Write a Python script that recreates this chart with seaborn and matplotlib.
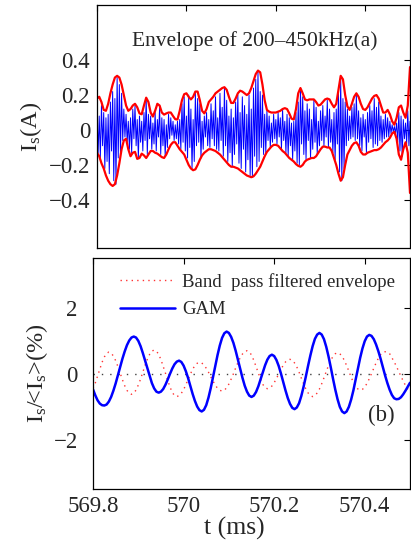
import numpy as np
import pandas as pd
import seaborn as sns
import matplotlib.pyplot as plt

# time grids (ms)
t_env = np.round(569.8 + 0.005 * np.arange(141), 4)
t_raw = np.round(569.8 + 0.0025 * np.arange(281), 5)

# (a) raw 200-450 kHz signal
raw_sig = [
    0.12, -0.13, 0.08, -0.16, 0.14, -0.09, 0.10, -0.22, 0.07, -0.18,
    0.09, -0.25, 0.16, -0.12, 0.22, -0.29, 0.18, -0.31, 0.30, -0.16,
    0.26, -0.14, 0.21, -0.06, 0.12, -0.04, 0.09, -0.07, 0.05, -0.11,
    0.07, -0.13, 0.12, -0.05, 0.14, -0.09, 0.06, -0.16, 0.08, -0.07,
    0.05, -0.12, 0.10, -0.06, 0.18, -0.14, 0.09, -0.05, 0.08, -0.11,
    0.04, -0.08, 0.10, -0.12, 0.06, -0.04, 0.13, -0.14, 0.07, -0.09,
    0.06, -0.15, 0.03, -0.10, 0.09, -0.05, 0.07, -0.03, 0.05, -0.06,
    0.03, -0.05, 0.05, -0.08, 0.06, -0.11, 0.15, -0.07, 0.19, -0.12,
    0.08, -0.16, 0.20, -0.10, 0.12, -0.22, 0.06, -0.18, 0.21, -0.09,
    0.18, -0.07, 0.15, -0.16, 0.05, -0.11, 0.08, -0.04, 0.10, -0.09,
    0.06, -0.10, 0.15, -0.05, 0.11, -0.09, 0.19, -0.11, 0.07, -0.12,
    0.21, -0.06, 0.13, -0.15, 0.24, -0.09, 0.17, -0.18, 0.08, -0.13,
    0.12, -0.21, 0.07, -0.14, 0.16, -0.08, 0.20, -0.19, 0.10, -0.22,
    0.19, -0.11, 0.14, -0.24, 0.09, -0.17, 0.20, -0.26, 0.12, -0.27,
    0.24, -0.15, 0.29, -0.21, 0.34, -0.18, 0.22, -0.10, 0.20, -0.14,
    0.09, -0.13, 0.11, -0.06, 0.08, -0.10, 0.04, -0.07, 0.09, -0.05,
    0.06, -0.08, 0.10, -0.04, 0.07, -0.11, 0.12, -0.06, 0.05, -0.13,
    0.09, -0.15, 0.07, -0.09, 0.04, -0.17, 0.05, -0.12, 0.10, -0.19,
    0.16, -0.20, 0.24, -0.08, 0.19, -0.14, 0.11, -0.17, 0.15, -0.06,
    0.12, -0.16, 0.06, -0.11, 0.17, -0.07, 0.13, -0.14, 0.05, -0.09,
    0.11, -0.06, 0.14, -0.09, 0.08, -0.04, 0.17, -0.10, 0.12, -0.07,
    0.06, -0.13, 0.10, -0.17, 0.12, -0.08, 0.21, -0.24, 0.30, -0.29,
    0.18, -0.22, 0.16, -0.09, 0.12, -0.06, 0.08, -0.05, 0.13, -0.04,
    0.15, -0.06, 0.20, -0.05, 0.11, -0.09, 0.07, -0.12, 0.09, -0.04,
    0.06, -0.13, 0.10, -0.07, 0.14, -0.05, 0.11, -0.10, 0.18, -0.08,
    0.13, -0.09, 0.16, -0.06, 0.08, -0.07, 0.06, -0.05, 0.09, -0.04,
    0.07, -0.04, 0.05, -0.02, 0.03, -0.01, 0.02, -0.02, 0.04, -0.07,
    0.10, -0.12, 0.08, -0.15, 0.06, -0.05, 0.04, -0.08, 0.11, -0.09,
    0.05,
]

env_upper = [
    0.18, 0.19, 0.16, 0.115, 0.11, 0.15, 0.21, 0.26, 0.30, 0.31,
    0.30, 0.26, 0.20, 0.14, 0.11, 0.12, 0.14, 0.15, 0.13, 0.095,
    0.09, 0.14, 0.185, 0.16, 0.10, 0.077, 0.11, 0.15, 0.14, 0.10,
    0.088, 0.095, 0.10, 0.10, 0.08, 0.062, 0.06, 0.11, 0.17, 0.205,
    0.21, 0.19, 0.175, 0.19, 0.22, 0.22, 0.17, 0.11, 0.095, 0.12,
    0.16, 0.175, 0.19, 0.21, 0.22, 0.23, 0.24, 0.245, 0.23, 0.19,
    0.155, 0.155, 0.18, 0.21, 0.225, 0.22, 0.21, 0.20, 0.21, 0.24,
    0.28, 0.32, 0.34, 0.33, 0.26, 0.17, 0.115, 0.105, 0.10, 0.10,
    0.10, 0.105, 0.11, 0.12, 0.125, 0.12, 0.095, 0.065, 0.06, 0.12,
    0.21, 0.24, 0.21, 0.175, 0.17, 0.175, 0.175, 0.175, 0.16, 0.14,
    0.145, 0.16, 0.175, 0.18, 0.175, 0.15, 0.13, 0.15, 0.23, 0.31,
    0.29, 0.20, 0.135, 0.115, 0.15, 0.19, 0.21, 0.19, 0.15, 0.12,
    0.115, 0.13, 0.155, 0.18, 0.195, 0.20, 0.18, 0.14, 0.10, 0.10,
    0.115, 0.09, 0.05, 0.03, 0.07, 0.13, 0.14, 0.10, 0.07, 0.14,
    0.36,
]

env_lower = [
    -0.13, -0.15, -0.19, -0.22, -0.26, -0.29, -0.31, -0.32, -0.31, -0.26,
    -0.19, -0.11, -0.06, -0.05, -0.11, -0.15, -0.13, -0.125, -0.165, -0.16,
    -0.135, -0.145, -0.16, -0.14, -0.12, -0.12, -0.13, -0.135, -0.145, -0.155,
    -0.16, -0.14, -0.11, -0.085, -0.07, -0.07, -0.09, -0.11, -0.125, -0.14,
    -0.17, -0.20, -0.22, -0.23, -0.225, -0.20, -0.17, -0.145, -0.13, -0.12,
    -0.11, -0.11, -0.115, -0.12, -0.13, -0.14, -0.155, -0.17, -0.185, -0.20,
    -0.21, -0.21, -0.215, -0.22, -0.23, -0.24, -0.25, -0.26, -0.265, -0.27,
    -0.265, -0.25, -0.23, -0.21, -0.18, -0.15, -0.125, -0.11, -0.095, -0.085,
    -0.085, -0.09, -0.105, -0.12, -0.13, -0.145, -0.16, -0.17, -0.18, -0.195,
    -0.205, -0.21, -0.20, -0.18, -0.17, -0.165, -0.16, -0.16, -0.15, -0.13,
    -0.11, -0.095, -0.095, -0.10, -0.10, -0.12, -0.16, -0.20, -0.25, -0.29,
    -0.27, -0.20, -0.14, -0.115, -0.09, -0.075, -0.07, -0.09, -0.125, -0.14,
    -0.14, -0.13, -0.125, -0.12, -0.115, -0.115, -0.11, -0.10, -0.085, -0.07,
    -0.06, -0.045, -0.02, -0.01, -0.05, -0.14, -0.17, -0.11, -0.07, -0.13,
    -0.36,
]

# (b) relative fluctuation (%)
bp_envelope = [
    -0.45, -0.29, -0.08, 0.13, 0.34, 0.50, 0.61, 0.65, 0.62, 0.53,
    0.39, 0.21, 0.01, -0.19, -0.37, -0.51, -0.60, -0.63, -0.60, -0.50,
    -0.35, -0.17, 0.04, 0.25, 0.43, 0.58, 0.68, 0.71, 0.68, 0.58,
    0.42, 0.22, 0.01, -0.21, -0.41, -0.57, -0.67, -0.70, -0.67, -0.60,
    -0.49, -0.34, -0.18, -0.02, 0.13, 0.24, 0.31, 0.34, 0.32, 0.26,
    0.16, 0.04, -0.10, -0.23, -0.35, -0.45, -0.51, -0.53, -0.51, -0.43,
    -0.32, -0.17, -0.01, 0.17, 0.33, 0.48, 0.59, 0.67, 0.69, 0.66,
    0.56, 0.40, 0.21, 0.02, -0.17, -0.33, -0.43, -0.46, -0.44, -0.38,
    -0.28, -0.15, -0.02, 0.12, 0.25, 0.35, 0.41, 0.43, 0.40, 0.32,
    0.20, 0.04, -0.14, -0.31, -0.47, -0.59, -0.67, -0.70, -0.67, -0.59,
    -0.47, -0.31, -0.13, 0.06, 0.24, 0.40, 0.52, 0.60, 0.63, 0.60,
    0.52, 0.40, 0.24, 0.07, -0.11, -0.27, -0.39, -0.47, -0.50, -0.48,
    -0.41, -0.30, -0.16, 0.00, 0.16, 0.32, 0.46, 0.57, 0.64, 0.66,
    0.65, 0.60, 0.48, 0.35, 0.22, 0.06, -0.08, -0.23, -0.36, -0.47,
    -0.56,
]

gam = [
    -0.48, -0.66, -0.81, -0.91, -0.96, -0.97, -0.94, -0.85, -0.71, -0.52,
    -0.30, -0.05, 0.20, 0.45, 0.67, 0.86, 1.00, 1.09, 1.12, 1.09,
    0.99, 0.83, 0.62, 0.39, 0.15, -0.08, -0.29, -0.45, -0.55, -0.58,
    -0.55, -0.47, -0.34, -0.18, -0.01, 0.15, 0.28, 0.36, 0.39, 0.35,
    0.24, 0.07, -0.14, -0.38, -0.62, -0.83, -1.00, -1.11, -1.15, -1.10,
    -0.96, -0.73, -0.44, -0.11, 0.23, 0.56, 0.85, 1.08, 1.22, 1.27,
    1.23, 1.11, 0.93, 0.69, 0.42, 0.14, -0.13, -0.37, -0.55, -0.67,
    -0.71, -0.67, -0.56, -0.39, -0.18, 0.04, 0.25, 0.42, 0.53, 0.57,
    0.53, 0.41, 0.23, 0.00, -0.255, -0.51, -0.74, -0.92, -1.04, -1.08,
    -1.03, -0.90, -0.68, -0.40, -0.09, 0.24, 0.55, 0.83, 1.05, 1.18,
    1.23, 1.18, 1.04, 0.81, 0.52, 0.19, -0.16, -0.49, -0.78, -1.01,
    -1.15, -1.20, -1.15, -1.01, -0.79, -0.51, -0.18, 0.15, 0.48, 0.76,
    0.98, 1.12, 1.17, 1.14, 1.04, 0.88, 0.68, 0.45, 0.195, -0.06,
    -0.29, -0.49, -0.65, -0.75, -0.78, -0.77, -0.72, -0.63, -0.52, -0.40,
    -0.28,
]

x_ticks = [569.8, 570.0, 570.2, 570.4]
x_tick_labels = ['569.8', '570', '570.2', '570.4']
a_yticks = [-0.4, -0.2, 0, 0.2, 0.4]
a_ytick_labels = ['\u22120.4', '\u22120.2', '0', '0.2', '0.4']
b_yticks = [-2, 0, 2]
b_ytick_labels = ['\u22122', '0', '2']

sns.set_style('white')
plt.rcParams['font.family'] = ['Liberation Serif', 'DejaVu Serif']
plt.rcParams['mathtext.fontset'] = 'custom'
plt.rcParams['mathtext.rm'] = 'Liberation Serif'
plt.rcParams['mathtext.it'] = 'Liberation Serif:italic'

fig = plt.figure(figsize=(4.11, 5.52), dpi=100)
ax1 = fig.add_axes([0.236, 0.5507, 0.7616, 0.4402])
ax2 = fig.add_axes([0.2263, 0.1141, 0.7713, 0.4185])

# panel (a)
sns.lineplot(x=t_raw, y=raw_sig, ax=ax1, color='#0000ff', lw=0.7)
sns.lineplot(x=t_env, y=env_upper, ax=ax1, color='#ff0000', lw=1.6)
sns.lineplot(x=t_env, y=env_lower, ax=ax1, color='#ff0000', lw=1.6)
ax1.set_xlim(569.8, 570.5)
ax1.set_ylim(-0.675, 0.715)
ax1.set_xticks(x_ticks)
ax1.set_xticklabels([])
ax1.set_yticks(a_yticks)
ax1.set_yticklabels(a_ytick_labels)
ax1.set_ylabel('I$_{\\rm s}$(A)', fontsize=17.5)
ax1.yaxis.set_label_coords(-0.17, 0.5)
ax1.text(0.505, 0.853, 'Envelope of 200\u2013450kHz(a)', transform=ax1.transAxes,
         ha='center', va='center', fontsize=15.5)
ax1.tick_params(axis='y', pad=5)

# panel (b)
ax2.axhline(0, color='0.25', lw=1.0, linestyle=(0, (1, 5)))
sns.lineplot(x=t_env, y=bp_envelope, ax=ax2, color='#ff3333', lw=1.0,
             linestyle=(0, (1, 3)), label='Band  pass filtered envelope')
sns.lineplot(x=t_env, y=gam, ax=ax2, color='#0000ff', lw=1.8, label='GAM')
ax2.set_xlim(569.8, 570.5)
ax2.set_ylim(-3.5, 3.5)
ax2.set_xticks(x_ticks)
ax2.set_xticklabels(x_tick_labels)
ax2.set_yticks(b_yticks)
ax2.set_yticklabels(b_ytick_labels)
ax2.set_xlabel('t (ms)', fontsize=18.5)
ax2.xaxis.set_label_coords(0.445, -0.12)
ax2.set_ylabel('I$_{\\rm s}$/<I$_{\\rm s}$>(%)', fontsize=17.5)
ax2.yaxis.set_label_coords(-0.135, 0.5)
ax2.text(0.91, 0.32, '(b)', transform=ax2.transAxes, ha='center', va='center',
         fontsize=16.5)
ax2.legend(loc='upper right', frameon=False, fontsize=13.5, handlelength=2.9,
           handletextpad=0.4, borderaxespad=0.5, borderpad=0.3,
           labelspacing=0.55)
ax2.tick_params(axis='y', pad=11)
ax2.tick_params(axis='x', pad=5)

for ax in (ax1, ax2):
    ax.tick_params(direction='in', length=4, width=0.8, top=True, right=True,
                   labelsize=16.5, color='k')
    for s in ax.spines.values():
        s.set_color('k')
        s.set_linewidth(0.9)

fig.savefig('out.png', dpi=100)
